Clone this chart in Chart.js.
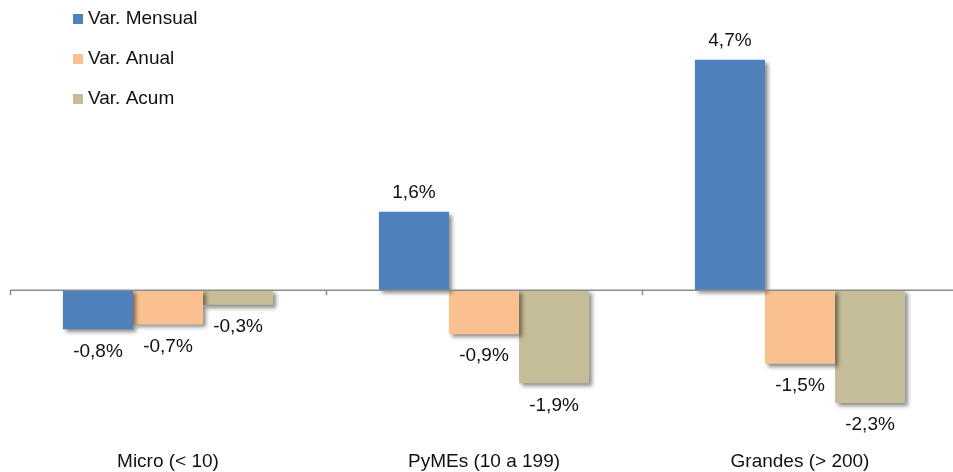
<!DOCTYPE html>
<html>
<head>
<meta charset="utf-8">
<script src="https://cdn.jsdelivr.net/npm/chart.js@4.4.1/dist/chart.umd.min.js"></script>
<style>
  html, body { margin: 0; padding: 0; background: #fff; overflow: hidden; }
  #wrap { width: 960px; height: 486px; }
</style>
</head>
<body>
<div id="wrap"><canvas id="chart"></canvas></div>
<script>
// datos del grafico
const categorias = ['Micro (< 10)', 'PyMEs (10 a 199)', 'Grandes (> 200)'];
const varMensual = [-0.8, 1.6, 4.7];
const varAnual = [-0.7, -0.9, -1.5];
const varAcum = [-0.3, -1.9, -2.3];
const series = ['Var. Mensual', 'Var. Anual', 'Var. Acum'];
const colores = ['#4F81BD', '#FAC090', '#C4BD97'];

const fuente = '"Liberation Sans", Arial, sans-serif';
const tam = 19;

function fmt(v) {
	return v.toFixed(1).replace('.', ',') + '%';
}

// sombra de las barras
const sombra = {
	id: 'sombra',
	beforeDatasetsDraw(chart) {
		const ctx = chart.ctx;
		ctx.save();
		ctx.shadowColor = 'rgba(0,0,0,0.45)';
		ctx.shadowBlur = 4;
		ctx.shadowOffsetX = 3;
		ctx.shadowOffsetY = 3;
	},
	afterDatasetsDraw(chart) {
		chart.ctx.restore();
	}
};

// linea del cero, etiquetas y leyenda
const extras = {
	id: 'extras',
	afterDraw(chart) {
		const ctx = chart.ctx;
		const area = chart.chartArea;
		const y0 = chart.scales.y.getPixelForValue(0);
		const n = categorias.length;
		const paso = (area.right - area.left) / n;

		ctx.save();
		ctx.strokeStyle = '#8c8c8c';
		ctx.lineWidth = 1.5;
		ctx.beginPath();
		ctx.moveTo(area.left, y0);
		ctx.lineTo(area.right, y0);
		for (let i = 0; i <= n; i++) {
			const x = Math.round(area.left + i * paso) + 0.5;
			ctx.moveTo(x, y0);
			ctx.lineTo(x, y0 + 5);
		}
		ctx.stroke();

		ctx.fillStyle = '#111';
		ctx.font = tam + 'px ' + fuente;
		ctx.textAlign = 'center';
		ctx.textBaseline = 'middle';
		chart.data.datasets.forEach((ds, di) => {
			const meta = chart.getDatasetMeta(di);
			meta.data.forEach((bar, i) => {
				const v = ds.data[i];
				const y = v >= 0 ? bar.y - 19 : bar.y + 22;
				ctx.fillText(fmt(v), bar.x, y);
			});
		});

		// leyenda
		ctx.textAlign = 'left';
		chart.data.datasets.forEach((ds, di) => {
			const y = 19 + di * 40;
			ctx.fillStyle = ds.backgroundColor;
			ctx.fillRect(73, y - 5, 10, 10);
			ctx.fillStyle = '#111';
			ctx.fillText(ds.label, 88, y);
		});
		ctx.restore();
	}
};

new Chart(document.getElementById('chart'), {
	type: 'bar',
	data: {
		labels: categorias,
		datasets: [
			{ label: series[0], data: varMensual, backgroundColor: colores[0] },
			{ label: series[1], data: varAnual, backgroundColor: colores[1] },
			{ label: series[2], data: varAcum, backgroundColor: colores[2] }
		]
	},
	options: {
		responsive: true,
		maintainAspectRatio: false,
		animation: false,
		layout: { padding: { left: 10, right: 2, top: 45, bottom: 0 } },
		datasets: { bar: { categoryPercentage: 0.665, barPercentage: 1.0 } },
		plugins: {
			legend: { display: false },
			tooltip: { enabled: false }
		},
		scales: {
			x: {
				grid: { display: false, drawTicks: false },
				border: { display: false },
				ticks: {
					color: '#111',
					padding: 13,
					font: { family: fuente, size: tam }
				}
			},
			y: {
				display: false,
				min: -3,
				max: 5
			}
		}
	},
	plugins: [sombra, extras]
});
</script>
</body>
</html>
